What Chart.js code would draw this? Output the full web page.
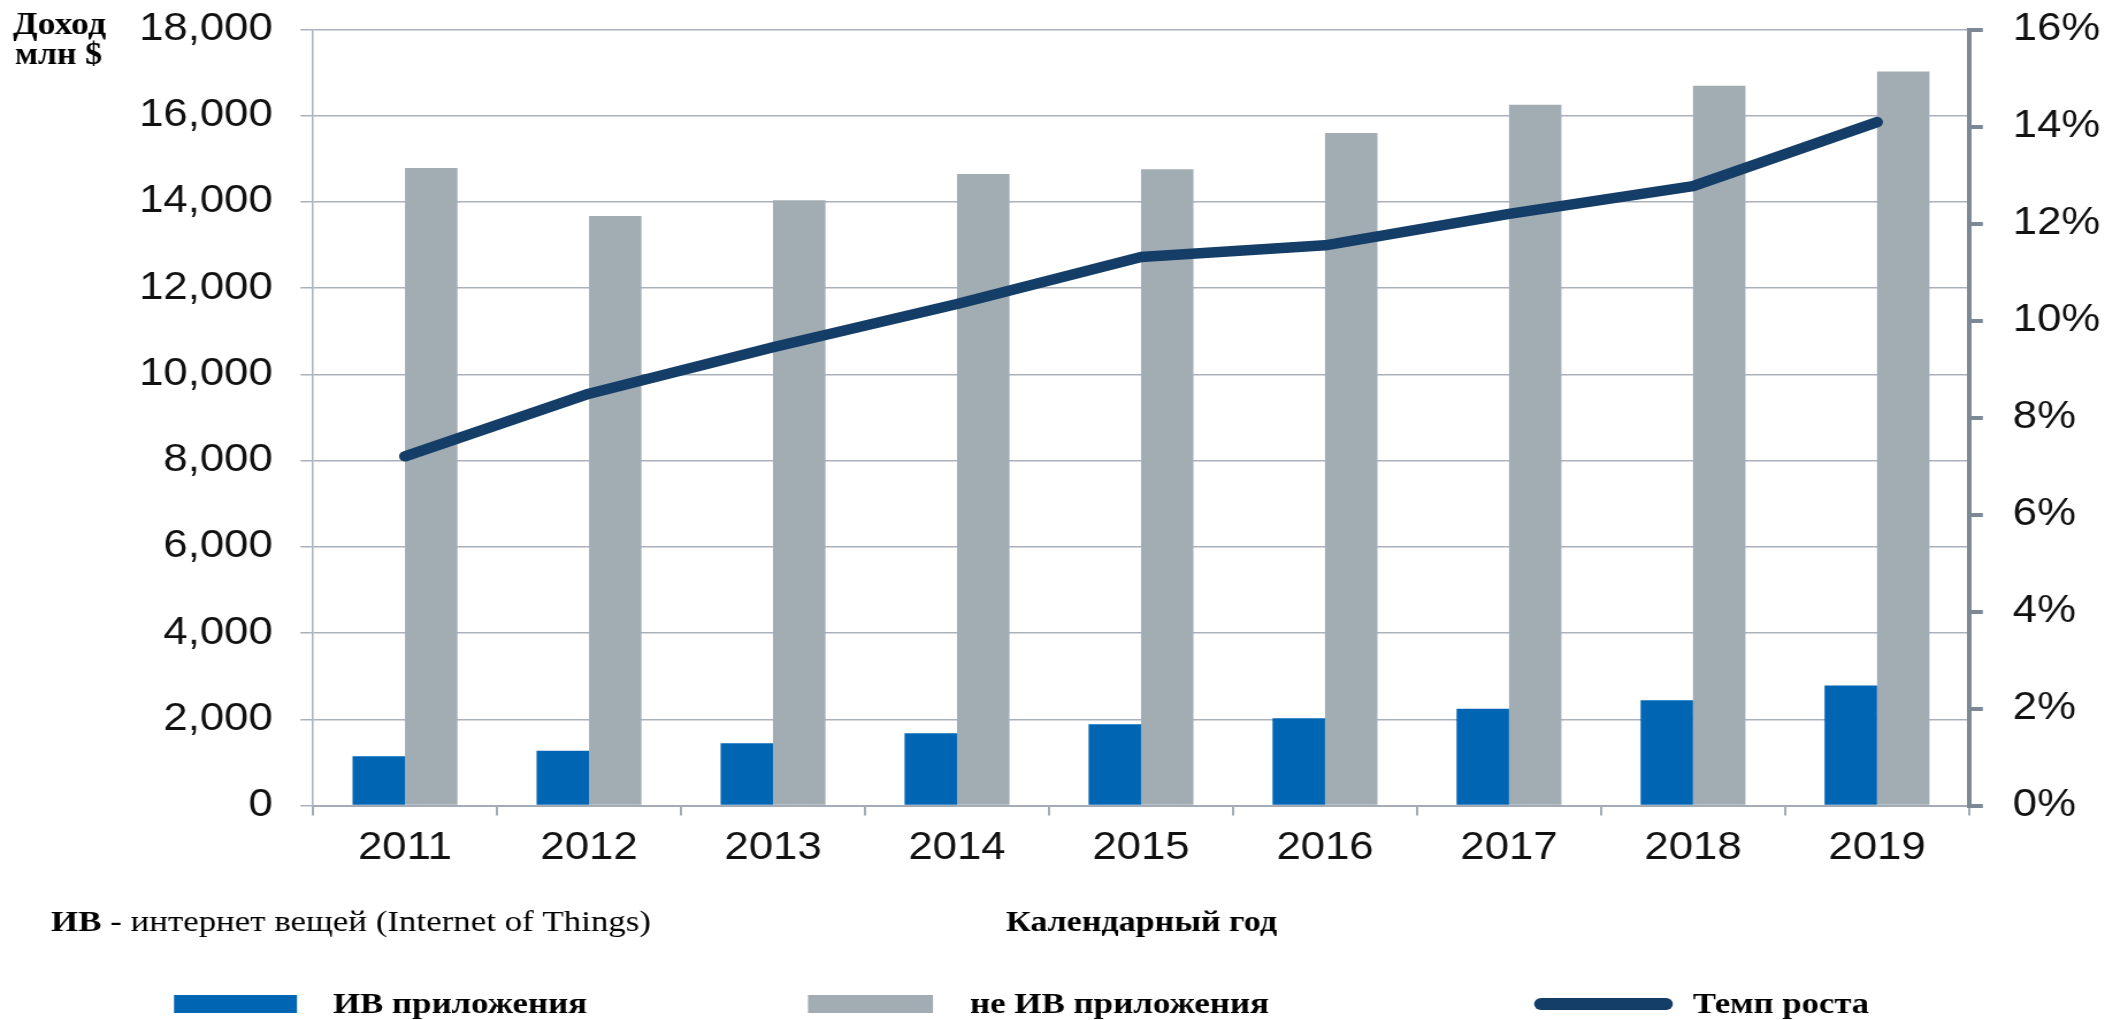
<!DOCTYPE html>
<html><head><meta charset="utf-8">
<script src="https://cdn.jsdelivr.net/npm/chart.js@4.4.1/dist/chart.umd.min.js"></script>
<style>
html,body{margin:0;padding:0;background:#fff;overflow:hidden;width:2105px;height:1020px;}
#wrap{position:absolute;left:0;top:0;width:1830px;height:1020px;transform:scaleX(1.150273);transform-origin:0 0;}
canvas{display:block;}
</style></head><body>
<div id="wrap"><canvas id="c" width="1830" height="1020"></canvas></div>
<script>
// ---- data ----
const years = ['2011','2012','2013','2014','2015','2016','2017','2018','2019'];
const iotRevenue = [1144, 1269, 1446, 1678, 1887, 2026, 2244, 2443, 2784];
const nonIotRevenue = [14786, 13673, 14037, 14647, 14756, 15599, 16257, 16698, 17023];
const growthRate = [7.2, 8.49, 9.45, 10.34, 11.31, 11.55, 12.2, 12.77, 14.09];
const seriesNames = ['ИВ приложения', 'не ИВ приложения', 'Темп роста'];
const revenueAxis = { min: 0, max: 18000, step: 2000 };
const rateAxis = { min: 0, max: 16, step: 2 };
const yTitleLines = ['Доход', 'млн $'];
const xTitle = 'Календарный год';
const noteBold = 'ИВ';
const noteRest = ' - интернет вещей (Internet of Things)';

// ---- layout helpers ----
const SX = 2105 / 1830;
const cx = x => x / SX;
const SANS = 'Liberation Sans, Arial, sans-serif';
const SERIF = 'Liberation Serif, Times New Roman, serif';

function fitText(ctx, parts, xFull, baseline, targetFullW) {
  let total = 0;
  parts.forEach(p => { ctx.font = p.font; total += ctx.measureText(p.text).width; });
  const k = (targetFullW / SX) / total;
  ctx.save();
  ctx.translate(cx(xFull), baseline);
  ctx.scale(k, 1);
  ctx.textBaseline = 'alphabetic';
  ctx.textAlign = 'left';
  ctx.fillStyle = '#000';
  let x = 0;
  parts.forEach(p => { ctx.font = p.font; ctx.fillText(p.text, x, 0); x += ctx.measureText(p.text).width; });
  ctx.restore();
}

const extras = {
  id: 'extras',
  afterDraw(chart) {
    const ctx = chart.ctx;
    const ds = chart.data.datasets;
    // y axis title
    fitText(ctx, [{ text: yTitleLines[0], font: 'bold 31px ' + SERIF }], 13, 34, 93);
    fitText(ctx, [{ text: yTitleLines[1], font: 'bold 31px ' + SERIF }], 15, 64, 87);
    // note + x title
    fitText(ctx, [{ text: noteBold, font: 'bold 30px ' + SERIF }, { text: noteRest, font: '30px ' + SERIF }], 51, 931, 600);
    fitText(ctx, [{ text: xTitle, font: 'bold 30px ' + SERIF }], 1006, 931, 271);
    // legend
    ctx.save();
    ctx.fillStyle = ds[0].backgroundColor;
    ctx.fillRect(cx(174), 995, cx(297) - cx(174), 18);
    ctx.fillStyle = ds[1].backgroundColor;
    ctx.fillRect(cx(808), 995, cx(933) - cx(808), 18);
    ctx.strokeStyle = ds[2].borderColor;
    ctx.lineWidth = 12;
    ctx.lineCap = 'round';
    ctx.beginPath();
    ctx.moveTo(cx(1541), 1004);
    ctx.lineTo(cx(1666), 1004);
    ctx.stroke();
    ctx.restore();
    fitText(ctx, [{ text: ds[0].label, font: 'bold 30px ' + SERIF }], 333, 1013, 254);
    fitText(ctx, [{ text: ds[1].label, font: 'bold 30px ' + SERIF }], 970, 1013, 299);
    fitText(ctx, [{ text: ds[2].label, font: 'bold 30px ' + SERIF }], 1693, 1013, 176);
  }
};

const tickFont = { family: SANS, size: 38 };

new Chart(document.getElementById('c'), {
  type: 'bar',
  data: {
    labels: years,
    datasets: [
      { label: seriesNames[0], data: iotRevenue, yAxisID: 'y', order: 1,
        backgroundColor: '#0066b3', barPercentage: 1, categoryPercentage: 0.57 },
      { label: seriesNames[1], data: nonIotRevenue, yAxisID: 'y', order: 1,
        backgroundColor: '#a2acb3', barPercentage: 1, categoryPercentage: 0.57 },
      { type: 'line', label: seriesNames[2], data: growthRate, yAxisID: 'y1', order: 0,
        borderColor: '#143d67', backgroundColor: '#143d67', borderWidth: 10.5,
        borderCapStyle: 'round', borderJoinStyle: 'round', pointRadius: 0, tension: 0, fill: false }
    ]
  },
  options: {
    responsive: false,
    animation: false,
    devicePixelRatio: 1,
    layout: { padding: { top: 29.5, bottom: 1020 - 805.5 - 80, left: 0, right: 0 } },
    plugins: { legend: { display: false }, tooltip: { enabled: false } },
    scales: {
      x: {
        offset: true,
        grid: { offset: true, drawOnChartArea: false, drawTicks: true, tickLength: 10, color: '#a3acb6', lineWidth: 2 },
        border: { display: true, color: '#a3acb6', width: 2 },
        ticks: { font: tickFont, color: '#111', padding: 10, maxRotation: 0, autoSkip: false },
        afterFit: s => { s.height = 80; s.paddingLeft = 0; s.paddingRight = 0; }
      },
      y: {
        position: 'left',
        min: revenueAxis.min, max: revenueAxis.max,
        ticks: { stepSize: revenueAxis.step, font: tickFont, color: '#111', padding: 24,
                 callback: v => Number(v).toLocaleString('en-US') },
        grid: { color: '#a9b2bc', lineWidth: 1.5, tickLength: 11, drawTicks: true },
        border: { display: true, color: '#a9b2bc', width: 1.5 },
        afterFit: s => { s.width = cx(313); s.paddingTop = 0; s.paddingBottom = 0; }
      },
      y1: {
        position: 'right',
        min: rateAxis.min, max: rateAxis.max,
        ticks: { stepSize: rateAxis.step, font: tickFont, color: '#111', padding: 26,
                 callback: v => v + '%' },
        grid: { drawOnChartArea: false, color: '#7d8896', lineWidth: 4, tickLength: 12, drawTicks: true },
        border: { display: true, color: '#7d8896', width: 4 },
        afterFit: s => { s.width = cx(2105 - 1969); s.paddingTop = 0; s.paddingBottom = 0; }
      }
    }
  },
  plugins: [extras]
});
</script>
</body></html>
